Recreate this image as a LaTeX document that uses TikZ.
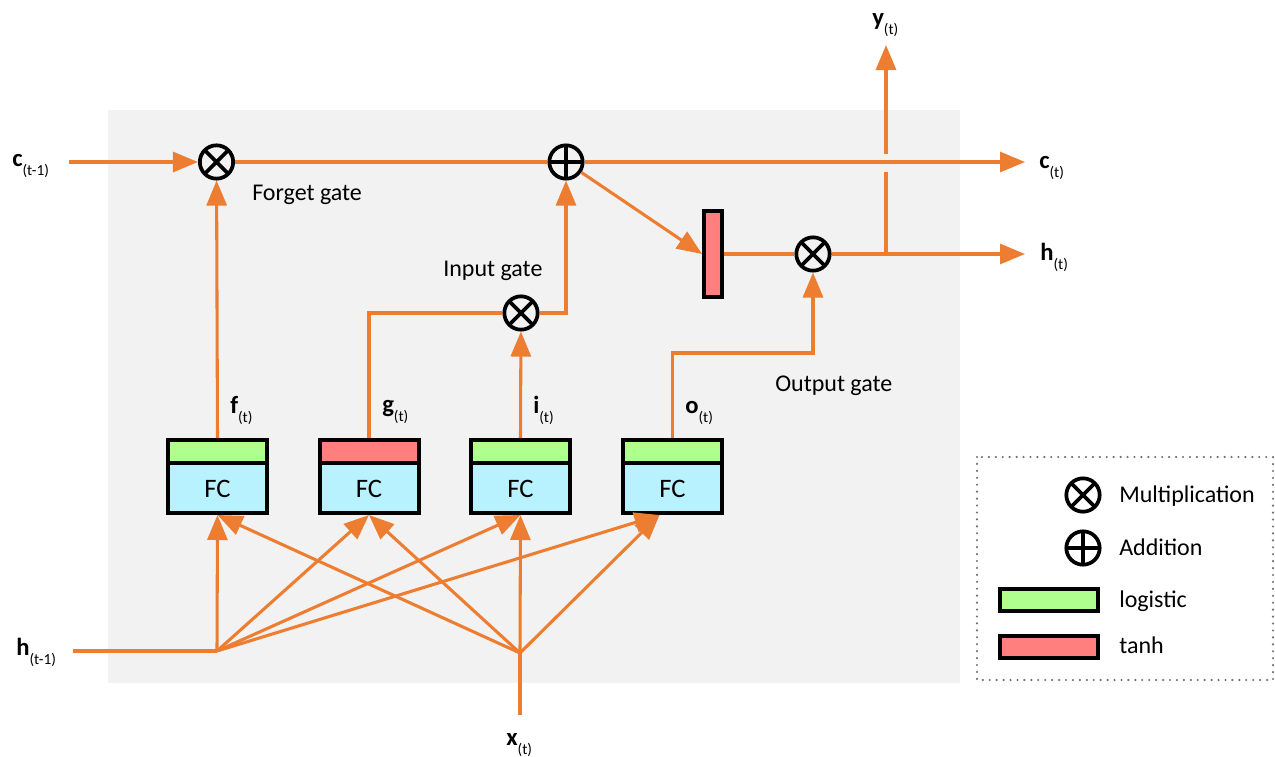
\documentclass[tikz,border=0pt]{standalone}
\usepackage{fontspec}
\setmainfont{Carlito}
\usetikzlibrary{arrows.meta}
\definecolor{lorange}{HTML}{ED7D31}
\definecolor{bggray}{HTML}{F2F2F2}
\definecolor{logigreen}{HTML}{AFFF8F}
\definecolor{tanhred}{HTML}{FF7F7F}
\definecolor{fcblue}{HTML}{B8F2FF}
\definecolor{dotgray}{HTML}{6F6F6F}
\newcommand{\lstmlbl}[2]{{\fontsize{18.5}{20}\selectfont\bfseries #1}\raisebox{-7pt}{\fontsize{11.5}{12}\selectfont #2}}
\begin{document}
\begin{tikzpicture}[x=0.75pt,y=-0.75pt,
  conn/.style={draw=lorange, line width=2.3pt},
  arr/.style={conn, -{Triangle[length=18.75pt,width=15pt]}},
  opnode/.style={circle, draw=black, line width=2.8pt, minimum size=25pt, inner sep=0pt},
  mulnode/.style={opnode, path picture={\draw[line width=2.8pt] (path picture bounding box.north west) -- (path picture bounding box.south east) (path picture bounding box.north east) -- (path picture bounding box.south west);}},
  addnode/.style={opnode, path picture={\draw[line width=2.8pt] (path picture bounding box.north) -- (path picture bounding box.south) (path picture bounding box.east) -- (path picture bounding box.west);}},
  fcbox/.style={rectangle, draw=black, line width=3pt, minimum width=74.25pt, minimum height=54.75pt, inner sep=0pt, fill=fcblue,
    path picture={\fill[logigreen] (path picture bounding box.north west) rectangle ([yshift=-17.25pt]path picture bounding box.north east);
      \draw[line width=3pt] ([yshift=-17.25pt]path picture bounding box.north west) -- ([yshift=-17.25pt]path picture bounding box.north east);}},
  fcboxt/.style={fcbox, path picture={\fill[tanhred] (path picture bounding box.north west) rectangle ([yshift=-17.25pt]path picture bounding box.north east);
      \draw[line width=3pt] ([yshift=-17.25pt]path picture bounding box.north west) -- ([yshift=-17.25pt]path picture bounding box.north east);}},
  fctext/.style={font=\fontsize{20}{22}\selectfont, inner sep=0pt},
  txt/.style={font=\fontsize{18}{20}\selectfont, anchor=base west, inner sep=0pt},
  var/.style={anchor=base west, inner sep=0pt},
  legrect/.style={rectangle, draw=black, line width=3pt, minimum width=73.5pt, minimum height=16.5pt, inner sep=0pt}
]
\useasboundingbox (0,0) rectangle (1275,757);
% background
\fill[bggray] (108,110) rectangle (960,683);
\draw[dotgray, line width=1.8pt, line cap=round, dash pattern=on 0pt off 5.2pt] (977,457) rectangle (1273,680);

% operator nodes
\node[mulnode] (mf) at (216.5,162) {};
\node[addnode] (add) at (566,162) {};
\node[mulnode] (mi) at (521,313) {};
\node[mulnode] (mo) at (813,254) {};
\node[rectangle, draw=black, line width=3pt, fill=tanhred, minimum width=13.5pt, minimum height=64.5pt, inner sep=0pt] (tanh) at (713,254) {};

% FC boxes
\node[fcbox] (fc1) at (217.5,476.5) {};
\node[fcboxt] (fc2) at (369,476.5) {};
\node[fcbox] (fc3) at (520.5,476.5) {};
\node[fcbox] (fc4) at (672.5,476.5) {};
\node[fctext] at (217.5,489) {FC};
\node[fctext] at (369,489) {FC};
\node[fctext] at (520.5,489) {FC};
\node[fctext] at (672.5,489) {FC};

% coordinates
\coordinate (cin) at (69,162);
\coordinate (cout) at (1025,162);
\coordinate (hout) at (1025,254);
\coordinate (yb) at (886,254);
\coordinate (yg1) at (886,172);
\coordinate (yg2) at (886,154);
\coordinate (yout) at (886,45);
\coordinate (ocorner) at (813,353);
\coordinate (hin) at (73,651);
\coordinate (hj) at (217,651);
\coordinate (xin) at (520,715);
\coordinate (xj) at (520,653);

% connectors
\draw[arr] (cin) -- (mf);
\draw[conn] (mf) -- (add);
\draw[arr] (add) -- (cout);
\draw[arr] (add) -- (tanh.west);
\draw[conn] (tanh.east) -- (mo);
\draw[arr] (mo) -- (hout);
\draw[conn] (yb) -- (yg1);
\draw[arr] (yg2) -- (yout);
\draw[arr] (fc1.north) -- (mf);
\draw[conn] (fc2.north) |- (mi);
\draw[arr] (fc3.north) -- (mi);
\draw[arr] (mi) -| (add);
\draw[arr] (fc4.north) |- (ocorner) -- (mo);

\draw[conn] (hin) -- (hj);
\draw[conn] (xin) -- (xj);
\draw[arr] (hj) -- (fc1.south);
\draw[arr] (hj) -- (fc2.south);
\draw[arr] (hj) -- (fc3.south);
\draw[arr] (hj) -- ([xshift=-9.75pt]fc4.south);
\draw[arr] (xj) -- (fc1.south);
\draw[arr] (xj) -- (fc2.south);
\draw[arr] (xj) -- (fc3.south);
\draw[arr] (xj) -- ([xshift=-9.75pt]fc4.south);

% variable labels
\node[var] at (12,166) {\lstmlbl{c}{(t-1)}};
\node[var] at (16,655) {\lstmlbl{h}{(t-1)}};
\node[var] at (1039,168) {\lstmlbl{c}{(t)}};
\node[var] at (1040,260) {\lstmlbl{h}{(t)}};
\node[var] at (872,25) {\lstmlbl{y}{(t)}};
\node[var] at (506,745) {\lstmlbl{x}{(t)}};
\node[var] at (230,413) {\lstmlbl{f}{(t)}};
\node[var] at (382,412) {\lstmlbl{g}{(t)}};
\node[var] at (533,413) {\lstmlbl{i}{(t)}};
\node[var] at (685,413) {\lstmlbl{o}{(t)}};

% gate labels
\node[txt] at (252,200) {Forget gate};
\node[txt] at (443,276) {Input gate};
\node[txt] at (775,391) {Output gate};

% legend
\node[mulnode] (lmul) at (1083,495) {};
\node[addnode] (ladd) at (1083,548) {};
\node[legrect, fill=logigreen] (lgreen) at (1049,600) {};
\node[legrect, fill=tanhred] (lred) at (1049,646.5) {};
\node[txt] at (1119,502) {Multiplication};
\node[txt] at (1119,555) {Addition};
\node[txt] at (1119,607) {logistic};
\node[txt] at (1119,653) {tanh};
\end{tikzpicture}
\end{document}
